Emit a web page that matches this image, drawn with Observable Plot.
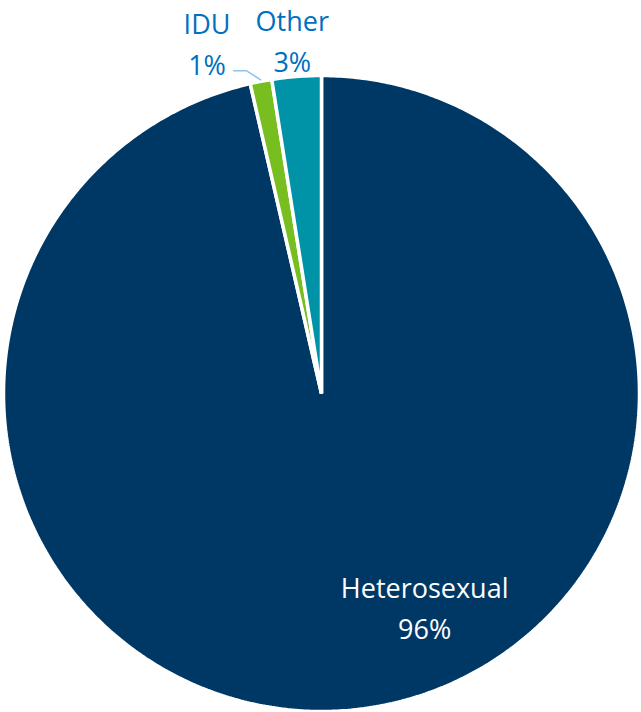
<!DOCTYPE html>
<html>
<head>
<meta charset="utf-8">
<script src="https://cdn.jsdelivr.net/npm/d3@7"></script>
<script src="https://cdn.jsdelivr.net/npm/@observablehq/plot@0.6"></script>
<style>
  html, body { margin: 0; padding: 0; background: #fff; }
  #chart svg { display: block; }
</style>
</head>
<body>
<div id="chart"></div>
<script>
// ---- data ----
const categories = ["Heterosexual", "IDU", "Other"];
const shares = [96.4, 1.1, 2.5];
const labels = ["Heterosexual\n96%", "IDU\n1%", "Other\n3%"];
const colors = ["#003865", "#78BE20", "#0093A8"];

// ---- layout ----
const W = 641, H = 712;
const cx = 321, cy = 393, R = 318;
// label placement: angle (deg, clockwise from top) and distance as fraction of R
const labelAngle = [154, -18, -4.7];
const labelDist = [0.74, 1.165, 1.122];

const pie = d3.pie().sort(null).value(d => d.share).startAngle(0).endAngle(2 * Math.PI);
const table = categories.map((c, i) => ({cat: c, share: shares[i], label: labels[i]}));
const arcs = pie(table);

const pt = (a, r) => [cx + r * Math.sin(a), cy - r * Math.cos(a)];

const polys = [];
arcs.forEach(a => {
  polys.push({cat: a.data.cat, x: cx, y: cy});
  const n = Math.max(4, Math.ceil((a.endAngle - a.startAngle) / 0.01));
  for (let k = 0; k <= n; k++) {
    const t = a.startAngle + (a.endAngle - a.startAngle) * k / n;
    const [x, y] = pt(t, R);
    polys.push({cat: a.data.cat, x, y});
  }
});

const textData = arcs.map((a, i) => {
  const [x, y] = pt(labelAngle[i] * Math.PI / 180, labelDist[i] * R);
  return {x, y, label: a.data.label, cat: a.data.cat};
});

// leader line for IDU: from label to slice edge
const idu = arcs[1];
const iduMid = (idu.startAngle + idu.endAngle) / 2;
const [ex, ey] = pt(iduMid, R * 1.005);
const leader = [
  {x: ex - 27, y: ey - 9},
  {x: ex - 14, y: ey - 9},
  {x: ex, y: ey}
];

const chart = Plot.plot({
  width: W,
  height: H,
  margin: 0,
  x: {domain: [0, W], range: [0, W], axis: null},
  y: {domain: [0, H], range: [0, H], axis: null},
  color: {domain: categories, range: colors},
  style: {fontFamily: "'Open Sans', sans-serif"},
  marks: [
    Plot.line(polys, {
      x: "x", y: "y", z: "cat", fill: "cat",
      stroke: "white", strokeWidth: 3.5, strokeLinejoin: "miter",
      curve: "linear-closed"
    }),
    Plot.line(leader, {x: "x", y: "y", stroke: "#8DC4EE", strokeWidth: 1.5}),
    Plot.text(textData, {
      x: "x", y: "y", text: "label",
      fill: d => d.cat === "Heterosexual" ? "white" : "#0070C0",
      fontSize: 27, lineHeight: 1.52, textAnchor: "middle"
    })
  ]
});

document.getElementById("chart").appendChild(chart);
</script>
</body>
</html>
